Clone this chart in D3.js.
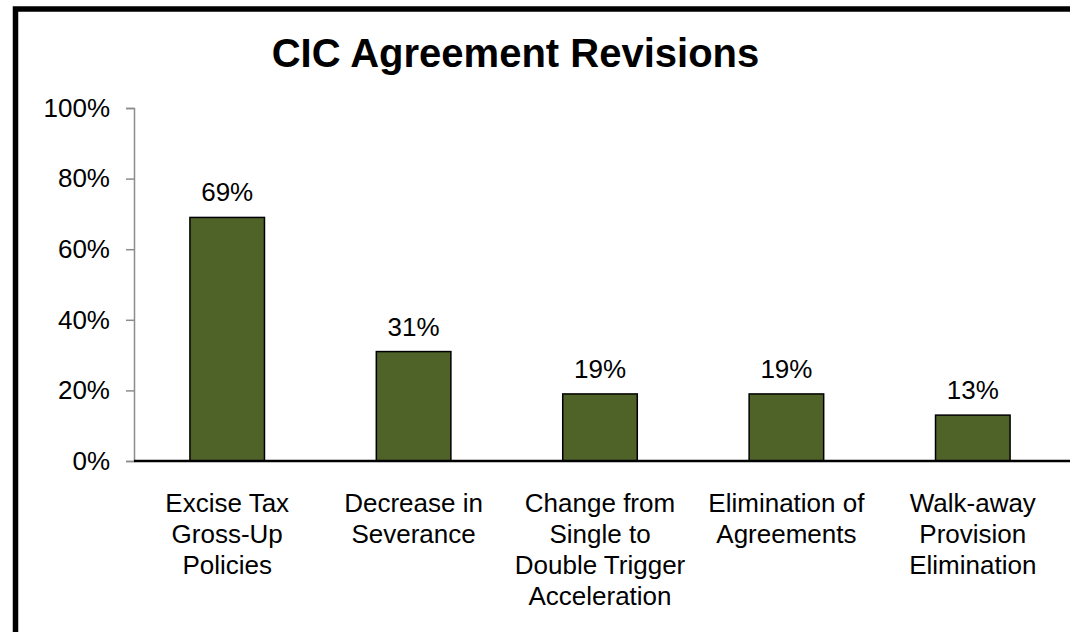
<!DOCTYPE html>
<html>
<head>
<meta charset="utf-8">
<script src="https://cdn.jsdelivr.net/npm/d3@7"></script>
<style>
  html, body { margin: 0; padding: 0; background: #fff; }
  svg { display: block; font-family: Arial, "Liberation Sans", sans-serif; }
</style>
</head>
<body>
<svg id="chart" width="1070" height="632"></svg>
<script>
// Share of companies making each change-in-control agreement revision
const categories = [
  ["Excise Tax", "Gross-Up", "Policies"],
  ["Decrease in", "Severance"],
  ["Change from", "Single to", "Double Trigger", "Acceleration"],
  ["Elimination of", "Agreements"],
  ["Walk-away", "Provision", "Elimination"]
];
const values = [0.69, 0.31, 0.19, 0.19, 0.13];
const yTicks = [0, 0.2, 0.4, 0.6, 0.8, 1.0];
const title = "CIC Agreement Revisions";

const svg = d3.select("#chart");
const W = 1070, H = 632;
const plot = { left: 134, right: 1066, top: 108, bottom: 461 };
const labelSize = 26;

// Outer frame (runs off the right and bottom edges)
svg.append("rect")
  .attr("x", 15.5).attr("y", 9)
  .attr("width", W + 20).attr("height", H + 20)
  .attr("fill", "#fff")
  .attr("stroke", "#000").attr("stroke-width", 5.5);

svg.append("text")
  .attr("x", 515.5).attr("y", 67)
  .attr("text-anchor", "middle")
  .attr("font-size", 40).attr("font-weight", "bold")
  .attr("fill", "#000")
  .text(title);

const keys = categories.map((c, i) => i);
const x = d3.scaleBand()
  .domain(keys)
  .range([plot.left, plot.right])
  .paddingInner(0.6).paddingOuter(0.3);

const y = d3.scaleLinear()
  .domain([0, 1])
  .range([plot.bottom, plot.top]);

// Y axis
const yAxis = d3.axisLeft(y)
  .tickValues(yTicks)
  .tickFormat(d3.format(".0%"))
  .tickSize(8)
  .tickPadding(16);

const gy = svg.append("g")
  .attr("transform", `translate(${plot.left},0)`)
  .call(yAxis);
gy.select(".domain").attr("stroke", "#8c8c8c").attr("stroke-width", 1.5);
gy.selectAll(".tick line").attr("stroke", "#8c8c8c").attr("stroke-width", 1.5);
gy.selectAll(".tick text")
  .attr("font-size", labelSize)
  .attr("font-family", "Arial, 'Liberation Sans', sans-serif")
  .attr("fill", "#000");

// Bars
svg.append("g").selectAll("rect")
  .data(values)
  .join("rect")
  .attr("x", (d, i) => x(i))
  .attr("y", d => y(d))
  .attr("width", x.bandwidth())
  .attr("height", d => y(0) - y(d))
  .attr("fill", "#4F6228")
  .attr("stroke", "#000")
  .attr("stroke-width", 1.5);

// Value labels
svg.append("g").selectAll("text")
  .data(values)
  .join("text")
  .attr("x", (d, i) => x(i) + x.bandwidth() / 2)
  .attr("y", d => y(d) - 16)
  .attr("text-anchor", "middle")
  .attr("font-size", labelSize)
  .attr("fill", "#000")
  .text(d => d3.format(".0%")(d));

// Baseline
svg.append("line")
  .attr("x1", plot.left).attr("x2", W)
  .attr("y1", y(0)).attr("y2", y(0))
  .attr("stroke", "#000").attr("stroke-width", 2.5);

// Category labels
const cat = svg.append("g").selectAll("text")
  .data(categories)
  .join("text")
  .attr("x", (d, i) => x(i) + x.bandwidth() / 2)
  .attr("y", 511.5)
  .attr("text-anchor", "middle")
  .attr("font-size", labelSize)
  .attr("fill", "#000");
cat.selectAll("tspan")
  .data(d => d)
  .join("tspan")
  .attr("x", function () { return d3.select(this.parentNode).attr("x"); })
  .attr("dy", (d, j) => j === 0 ? 0 : 31)
  .text(d => d);
</script>
</body>
</html>
